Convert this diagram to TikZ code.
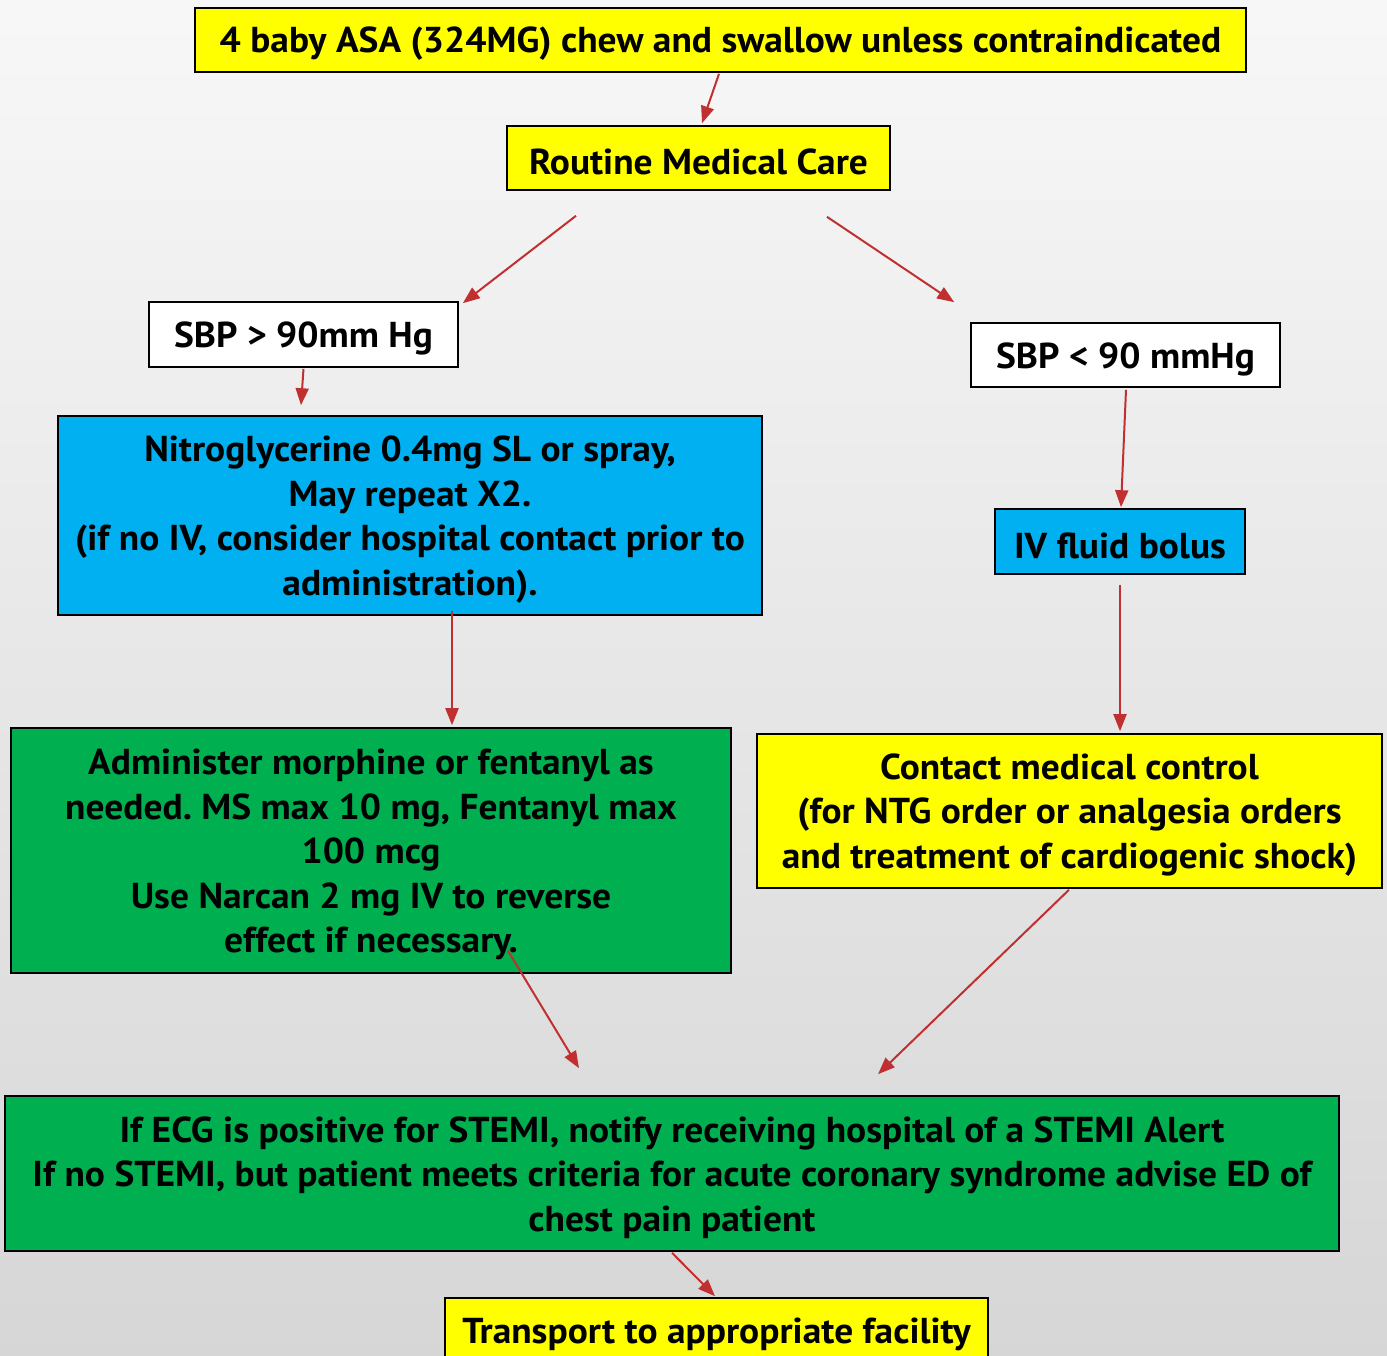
\documentclass[tikz,border=0pt]{standalone}
\usepackage{fontspec}
\setmainfont{PT Sans}[FakeStretch=1.04]
\frenchspacing
\usetikzlibrary{arrows.meta,calc}
\definecolor{boxyellow}{RGB}{255,255,0}
\definecolor{boxcyan}{RGB}{0,176,240}
\definecolor{boxgreen}{RGB}{0,176,80}
\definecolor{arrowred}{RGB}{192,48,48}
\tikzset{
  flowbox/.style={draw=black, line width=1.6pt, inner sep=0pt},
  ybox/.style={flowbox, fill=boxyellow},
  cbox/.style={flowbox, fill=boxcyan},
  gbox/.style={flowbox, fill=boxgreen},
  wbox/.style={flowbox, fill=white},
  boxtext/.style={inner sep=0pt, align=center,
    font=\fontsize{36}{44.5}\selectfont\bfseries},
  flow/.style={draw=arrowred, line width=2pt,
    -{Triangle[length=17pt,width=13pt]}},
}
% box with its text set slightly below the geometric centre
\newcommand{\flowtext}[2]{\node[boxtext] (#1-text) at ($(#1.center)+(0,4)$) {#2};}
\begin{document}
\begin{tikzpicture}[x=1pt,y=-1pt]
  % page and soft grey background
  \useasboundingbox (0,0) rectangle (1387,1356);
  \clip (0,0) rectangle (1387,1356);
  \shade[top color=white!97!black, bottom color=white!84!black]
    (0,0) rectangle (1387,1356);

  % boxes
  \node[ybox, minimum width=1051pt, minimum height=64pt] (asa) at (720.5,40) {};
  \node[ybox, minimum width=383pt, minimum height=64pt] (routine) at (698.5,158) {};
  \node[wbox, minimum width=309pt, minimum height=65pt] (sbphi) at (303.5,334.5) {};
  \node[wbox, minimum width=309pt, minimum height=64pt] (sbplo) at (1125.5,355) {};
  \node[cbox, minimum width=704pt, minimum height=199pt] (nitro) at (410,515.5) {};
  \node[cbox, minimum width=250pt, minimum height=65pt] (iv) at (1120,541.5) {};
  \node[gbox, minimum width=720pt, minimum height=245pt] (morph) at (371,850.5) {};
  \node[ybox, minimum width=625pt, minimum height=154pt] (contact) at (1069.5,811) {};
  \node[gbox, minimum width=1334pt, minimum height=155pt] (stemi) at (672,1173.5) {};
  \node[ybox, minimum width=543pt, minimum height=64pt] (transport) at (716.5,1330) {};

  % box texts
  \flowtext{asa}{4 baby ASA (324MG) chew and swallow unless contraindicated}
  \flowtext{routine}{Routine Medical Care}
  \flowtext{sbphi}{SBP > 90mm Hg}
  \flowtext{sbplo}{SBP < 90 mmHg}
  \flowtext{nitro}{Nitroglycerine 0.4mg SL or spray,\\May repeat X2.\\(if no IV, consider hospital contact prior to\\administration).}
  \flowtext{iv}{IV fluid bolus}
  \flowtext{morph}{Administer morphine or fentanyl as\\needed. MS max 10 mg, Fentanyl max\\100 mcg\\Use Narcan 2 mg IV to reverse\\effect if necessary.}
  \flowtext{contact}{Contact medical control\\(for NTG order or analgesia orders\\and treatment of cardiogenic shock)}
  \flowtext{stemi}{If ECG is positive for STEMI, notify receiving hospital of a STEMI Alert\\If no STEMI, but patient meets criteria for acute coronary syndrome advise ED of\\chest pain patient}
  \flowtext{transport}{Transport to appropriate facility}

  % connectors
  \draw[flow] ($(asa.south)+(-1.5,1)$) -- ($(routine.north)+(3.5,-2)$);
  \draw[flow] ($(routine.south)+(-122.5,25)$) -- ($(sbphi.north east)+(4,2)$);
  \draw[flow] ($(routine.south)+(128.5,26)$) -- ($(sbplo.north west)+(-16,-20)$);
  \draw[flow] ($(sbphi.south)+(0,1)$) -- ($(nitro.north)+(-109,-10)$);
  \draw[flow] ($(sbplo.south)+(0.5,2)$) -- ($(iv.north)+(1,-1)$);
  \draw[flow] ($(nitro.south)+(42,-5)$) -- ($(morph.north)+(81,-2)$);
  \draw[flow] ($(iv.south)+(0,10)$) -- ($(contact.north)+(50.5,-2)$);
  \draw[flow] ($(morph.south)+(137,-23)$) -- ($(stemi.north)+(-93,-27)$);
  \draw[flow] ($(contact.south)+(-0.5,1)$) -- ($(stemi.north)+(206,-21)$);
  \draw[flow] ($(stemi.south)+(0,1)$) -- ($(transport.north)+(-1.5,-1)$);
\end{tikzpicture}
\end{document}
